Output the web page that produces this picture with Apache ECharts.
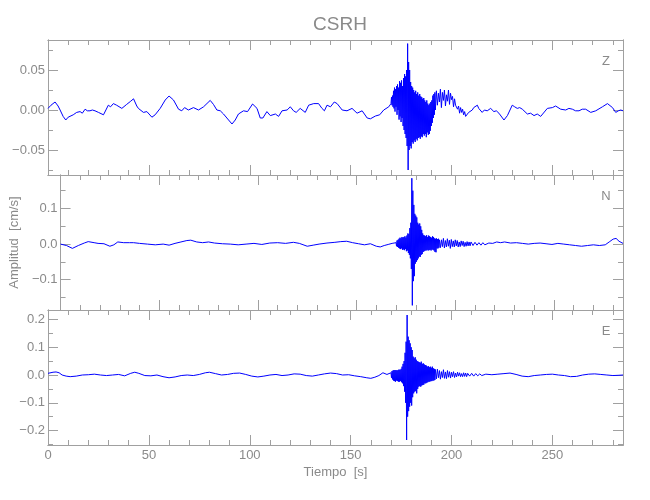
<!DOCTYPE html>
<html>
<head>
<meta charset="utf-8">
<script src="https://cdn.jsdelivr.net/npm/echarts@6/dist/echarts.min.js"></script>
<style>html,body{margin:0;padding:0;background:#fff}#c{width:650px;height:500px}</style>
</head>
<body>
<div id="c"></div>
<script>
// ---------- data ----------
const titleText = 'CSRH';
const componentNames = ['Z', 'N', 'E'];
const xRange = [0, 285];
const xMajor = [0, 50, 100, 150, 200, 250];
const xMinor = [10,20,30,40,60,70,80,90,110,120,130,140,160,170,180,190,210,220,230,240,260,270,280];

const zRange = [-0.08125, 0.0875];
const zMajor = [-0.05, 0, 0.05];
const zMinor = [-0.075, -0.025, 0.025, 0.075];
const nRange = [-0.185, 0.194];
const nMajor = [-0.1, 0, 0.1];
const nMinor = [-0.15, -0.05, 0.05, 0.15];
const eRange = [-0.252, 0.234];
const eMajor = [-0.2, -0.1, 0, 0.1, 0.2];
const eMinor = [-0.25, -0.15, -0.05, 0.05, 0.15];

// shared sample times of the strong-motion part (s)
const evT = [
 170,170.25,170.5,170.75, 171,171.25,171.5,171.75, 172,172.25,172.5,172.75,
 173,173.25,173.5,173.75, 174,174.25,174.5,174.75, 175,175.25,175.5,175.75,
 176,176.25,176.5,176.75, 177,177.25,177.5,177.75, 178,178.25,178.5,178.75,
 179,179.25,179.5,179.75, 180,180.25,180.5,180.75, 181,181.25,181.5,181.75,
 182,182.25,182.5,182.75, 183,183.25,183.5,183.75, 184,184.25,184.5,184.75,
 185,185.25,185.5,185.75, 186,186.25,186.5,186.75, 187,187.25,187.5,187.75,
 188,188.25,188.5,188.75, 189,189.25,189.5,189.75, 190,190.25,190.5,190.75,
 191,191.25,191.5,191.75, 192,
 192.5,193,193.5,194,194.5,195,195.5,196,196.5,197,197.5,198,198.5,199,199.5,200,
 200.5,201,201.5,202,202.5,203,203.5,204,204.5,205
];

// Z component
const zPre = [[0,0.002],[1.5,0.006],[3.5,0.010],[5,0.005],[6,0.000],[7.5,-0.008],[8.8,-0.0125],[10,-0.009],
 [10.9,-0.007],[12.5,-0.006],[14.2,-0.003],[15.9,-0.002],[17,-0.004],[18.4,0.001],[19.5,-0.001],[20.8,-0.001],
 [22,0.000],[23.3,-0.001],[25,-0.003],[25.8,-0.005],[27.5,-0.006],[29.9,0.006],[31,0.004],[32.4,0.008],
 [34,0.006],[34.9,0.005],[36.6,0.002],[39,0.007],[41,0.011],[42.4,0.014],[44,0.005],[44.8,0.002],
 [47.3,-0.003],[49,-0.002],[51.5,-0.009],[53.1,-0.006],[55.6,0.002],[58.1,0.0125],[60,0.0175],[62.2,0.0125],
 [64.7,0.001],[66.3,-0.001],[67.7,0.003],[69.6,0.000],[72.1,0.003],[74.6,0.000],[77.1,0.004],[80.4,0.012],
 [82,0.007],[83.7,0.000],[85.4,-0.001],[87,-0.005],[89.5,-0.0125],[91.2,-0.0175],[92.8,-0.0125],[94.4,-0.005],
 [96.9,-0.001],[98.9,-0.002],[101.4,0.0075],[103.6,0.002],[105.2,-0.010],[106.5,-0.010],[108.5,-0.002],[110.2,-0.007],
 [112.7,-0.005],[114.3,-0.008],[116,-0.001],[118.5,0.000],[120.1,0.004],[121.7,-0.001],[123,-0.003],[125,0.002],
 [127.5,-0.003],[129.2,0.006],[131.7,0.008],[134.1,0.008],[135.8,0.002],[137,-0.001],[138.3,0.006],[140,0.004],
 [141.9,0.010],[143.3,0.008],[145.8,0.000],[148.2,-0.001],[150.7,0.002],[153.2,-0.004],[155.7,-0.001],[158.2,-0.010],
 [159.8,-0.011],[162.3,-0.0075],[164.4,-0.006],[166.4,0.000],[168.9,0.004]];
const zEv = [
 0.008,0.016,0.006,0.018,  0.004,0.024,0.002,0.028,  -0.002,0.026,0.004,0.030,
 -0.006,0.032,0.000,0.028, -0.012,0.036,-0.008,0.034, -0.015,0.037,-0.010,0.030,
 -0.020,0.040,-0.025,0.045, -0.030,0.042,-0.035,0.050, -0.045,0.083,-0.075,0.060,
 -0.050,0.050,-0.045,0.035, -0.048,0.030,-0.040,0.028, -0.042,0.025,-0.038,0.022,
 -0.040,0.024,-0.036,0.020, -0.038,0.022,-0.035,0.018, -0.034,0.020,-0.036,0.017,
 -0.033,0.016,-0.034,0.014, -0.030,0.015,-0.032,0.012, -0.030,0.010,-0.034,0.012,
 -0.028,0.008,-0.031,0.006, -0.030,0.008,-0.026,0.010, -0.020,0.012,-0.016,0.018,
 -0.010,0.020,-0.006,0.022, 0.000,
 0.024,0.006,0.021,0.010,0.026,0.003,0.022,0.012,0.025,0.005,0.019,0.011,0.025,0.007,0.021,0.013,
 0.017,0.004,0.014,0.006,0.007,0.001,0.005,-0.004,0.003,-0.003
];
const zPost = [[205.5,0.001],[206,-0.006],[206.5,-0.002],[207,-0.008],[207.8,-0.007],[208.5,-0.003],[209.2,-0.005],
 [210.3,0.000],[211,0.003],[211.7,0.001],[212.8,0.006],[213.5,0.002],[215.2,-0.003],[216.3,0.000],[217.7,-0.001],
 [219.4,0.002],[221,-0.002],[222.2,-0.001],[223.5,-0.004],[226,-0.0125],[227.7,-0.007],[230.1,0.006],[231.3,0.004],
 [232.6,0.002],[233.8,0.003],[235.1,0.001],[237.6,-0.005],[239.2,-0.004],[240.9,-0.007],[242.5,-0.005],[244.2,-0.008],
 [247.5,0.002],[250,0.003],[251.6,0.005],[254.1,0.001],[256.6,0.000],[258.2,0.002],[259.9,0.001],[261.5,-0.001],
 [263.2,-0.001],[264.8,0.001],[266.5,0.001],[269,-0.003],[271.5,-0.001],[274.8,0.004],[277.3,0.008],[279.8,0.003],
 [281.4,-0.003],[282.7,-0.001],[283.9,0.000],[285,-0.001]];

// N component
const nPre = [[0,0.000],[3,-0.004],[6,-0.012],[9,-0.004],[12,0.003],[14,0.007],[17,0.004],[19,0.002],
 [22,0.001],[25,-0.006],[27,-0.002],[29,0.006],[32,0.004],[35,0.004],[37,0.004],[40,0.002],
 [44,0.000],[48,-0.002],[52,0.000],[55,-0.003],[58,0.002],[61,0.006],[64,0.010],[66,0.011],
 [69,0.006],[72,0.004],[75,0.006],[78,0.003],[82,0.001],[86,0.000],[90,-0.002],[94,0.000],
 [98,0.002],[102,-0.001],[106,0.003],[110,0.004],[114,0.002],[118,0.005],[121,0.002],[125,-0.006],
 [128,-0.003],[131,0.000],[135,0.003],[139,0.005],[142,0.007],[145,0.008],[148,0.004],[151,0.001],
 [154,-0.002],[157,0.001],[160,-0.006],[162,-0.008],[164,-0.004],[166,-0.001],[168,0.002]];
const nEv = [
 0.004,-0.006,0.010,-0.008, 0.012,-0.010,0.015,-0.012, 0.018,-0.014,0.016,-0.012,
 0.020,-0.016,0.018,-0.015, 0.020,-0.017,0.022,-0.014, 0.018,-0.020,0.024,-0.018,
 0.030,-0.025,0.028,-0.030, 0.045,-0.040,0.060,-0.070, 0.185,-0.172,0.150,-0.104,
 0.110,-0.090,0.085,-0.055, 0.080,-0.050,0.075,-0.045, 0.060,-0.040,0.055,-0.035,
 0.058,-0.036,0.050,-0.030, 0.040,-0.028,0.030,-0.022, 0.025,-0.020,0.024,-0.018,
 0.022,-0.018,0.025,-0.016, 0.020,-0.018,0.024,-0.017, 0.022,-0.016,0.020,-0.018,
 0.018,-0.015,0.022,-0.016, 0.020,-0.018,0.016,-0.022, 0.015,-0.023,0.016,-0.012,
 0.014,-0.012,0.015,-0.010, 0.012,
 -0.010,0.012,-0.007,0.016,-0.011,0.010,-0.008,0.015,-0.006,0.011,-0.012,0.013,-0.007,0.009,-0.008,0.012,
 -0.005,0.010,-0.008,0.006,-0.007,0.009,-0.004,0.008,-0.007,0.005
];
const nPost = [[205.5,-0.006],[206,0.007],[206.5,-0.005],[207,0.006],[207.5,-0.005],[208,0.006],[209,-0.004],
 [210,0.005],[211,-0.003],[212,0.004],[213,-0.003],[214,0.004],[215,-0.002],[217,0.003],[219,0.002],[221,0.006],
 [223,0.004],[225,0.006],[228,0.003],[231,0.004],[234,0.002],[237,0.000],[240,0.002],[243,0.003],
 [246,0.001],[249,-0.001],[252,0.002],[255,0.000],[258,-0.002],[261,-0.004],[264,-0.006],[267,-0.004],
 [270,-0.002],[273,-0.004],[276,-0.002],[278,0.006],[280,0.014],[281.5,0.016],[283,0.008],[285,0.002]];

// E component
const ePre = [[0,0.006],[2.5,0.010],[4,0.011],[5.5,0.008],[7,0.000],[9,-0.004],[11,-0.006],[14,-0.004],
 [17,0.000],[20,0.001],[23,0.003],[26,0.000],[29,-0.002],[32,0.000],[35,0.002],[38,-0.003],
 [41,0.006],[43,0.010],[45,0.006],[48,-0.002],[51,-0.003],[54,0.000],[57,-0.006],[60,-0.010],
 [63,-0.007],[66,-0.002],[69,0.000],[72,-0.002],[75,0.002],[78,0.008],[80,0.010],[83,0.005],
 [86,0.000],[89,0.002],[92,0.006],[95,0.007],[98,0.002],[101,-0.004],[104,-0.007],[107,-0.004],
 [110,0.000],[113,0.002],[116,-0.002],[119,0.000],[122,0.004],[125,0.003],[128,-0.002],[131,-0.004],
 [134,0.000],[137,0.004],[140,0.007],[143,0.005],[146,0.000],[149,0.001],[152,-0.003],[155,-0.006],
 [158,-0.010],[160,-0.012],[162,-0.008],[164,-0.002],[166,0.008],[168,0.002]];
const eEv = [
 0.008,-0.010,0.014,-0.016, 0.016,-0.020,0.018,-0.022, 0.017,-0.024,0.018,-0.020,
 0.016,-0.022,0.018,-0.024, 0.020,-0.024,0.018,-0.022, 0.022,-0.026,0.030,-0.030,
 0.040,-0.040,0.050,-0.060, 0.080,-0.100,0.120,-0.234, 0.216,-0.150,0.138,-0.130,
 0.125,-0.114,0.114,-0.100, 0.100,-0.110,0.090,-0.080, 0.066,-0.066,0.060,-0.060,
 0.064,-0.058,0.055,-0.066, 0.050,-0.050,0.048,-0.042, 0.046,-0.040,0.044,-0.042,
 0.048,-0.038,0.040,-0.036, 0.042,-0.035,0.038,-0.030, 0.036,-0.030,0.034,-0.028,
 0.030,-0.026,0.032,-0.024, 0.028,-0.024,0.030,-0.022, 0.026,-0.022,0.030,-0.020,
 0.024,-0.020,0.022,-0.018, 0.020,
 -0.014,0.021,-0.010,0.016,-0.015,0.012,-0.009,0.019,-0.012,0.011,-0.013,0.016,-0.008,0.012,-0.011,0.010,
 -0.006,0.012,-0.009,0.007,-0.007,0.010,-0.004,0.008,-0.006,0.005
];
const ePost = [[205.5,-0.006],[206,0.008],[206.5,-0.005],[207,0.007],[207.5,-0.006],[208,0.006],[209,-0.004],
 [210,0.006],[211,-0.004],[212,0.005],[213,-0.003],[214,0.004],[215,-0.002],[217,0.003],[220,0.001],[223,0.003],
 [226,0.005],[229,0.007],[232,0.002],[235,-0.004],[238,-0.006],[241,-0.002],[244,0.000],[247,0.002],
 [250,0.003],[253,0.000],[256,-0.002],[259,-0.006],[262,-0.005],[265,0.000],[268,0.003],[271,0.004],
 [274,0.002],[277,0.000],[280,-0.002],[283,-0.001],[285,0.000]];

// ---------- chart ----------
const FONT = '"Liberation Sans Narrow", "Liberation Sans", sans-serif';
const AX = '#a0a0a0';
const TXT = '#8a8a8a';
const LINE = '#0000ff';
const panelTops = [40, 175, 310];
const panelH = 135;
const left = 48, right = 27;

function build(pre, ev, post) {
  return pre.concat(evT.map((t, i) => [t, ev[i]]), post);
}
const traces = [build(zPre, zEv, zPost), build(nPre, nEv, nPost), build(ePre, eEv, ePost)];
const yRanges = [zRange, nRange, eRange];
const yMajors = [zMajor, nMajor, eMajor];
const yMinors = [zMinor, nMinor, eMinor];
const yDigits = [2, 1, 1];

function fmt(d) {
  return function (v) {
    const s = Math.abs(v).toFixed(d);
    return (v < -1e-9 ? '\u2212' : '') + s;
  };
}

const grids = [], xAxes = [], yAxes = [], series = [], graphics = [];
for (let g = 0; g < 3; g++) {
  grids.push({ left: left, right: right, top: panelTops[g], height: panelH });
  const lastPanel = g === 2;
  const xDefs = [['bottom', xMajor, 10, lastPanel], ['bottom', xMinor, 5, false], ['top', xMajor, 10, false], ['top', xMinor, 5, false]];
  xDefs.forEach(function (d, k) {
    const ax = {
      type: 'value', gridIndex: g, position: d[0], min: xRange[0], max: xRange[1],
      axisLine: { show: true, onZero: false, lineStyle: { color: AX, width: 1 } },
      axisTick: { show: true, inside: true, length: d[2], customValues: d[1], lineStyle: { color: AX, width: 1 } },
      axisLabel: { show: d[3], customValues: xMajor, color: TXT, fontFamily: FONT, fontSize: 13, margin: 4 },
      splitLine: { show: false }
    };
    if (lastPanel && k === 0) {
      ax.name = 'Tiempo  [s]'; ax.nameLocation = 'middle'; ax.nameGap = 21;
      ax.nameTextStyle = { color: TXT, fontFamily: FONT, fontSize: 13 };
    }
    xAxes.push(ax);
  });
  const yDefs = [['left', yMajors[g], 10, true], ['left', yMinors[g], 5, false], ['right', yMajors[g], 10, false], ['right', yMinors[g], 5, false]];
  yDefs.forEach(function (d, k) {
    const ax = {
      type: 'value', gridIndex: g, position: d[0], min: yRanges[g][0], max: yRanges[g][1],
      axisLine: { show: true, onZero: false, lineStyle: { color: AX, width: 1 } },
      axisTick: { show: true, inside: true, length: d[2], customValues: d[1], lineStyle: { color: AX, width: 1 } },
      axisLabel: { show: d[3], customValues: yMajors[g], formatter: fmt(yDigits[g]), color: TXT, fontFamily: FONT, fontSize: 13, margin: 3 },
      splitLine: { show: false }
    };
    if (g === 1 && k === 0) {
      ax.name = 'Amplitud  [cm/s]'; ax.nameLocation = 'middle'; ax.nameGap = 29; ax.nameRotate = 90;
      ax.nameTextStyle = { color: TXT, fontFamily: FONT, fontSize: 13 };
    }
    yAxes.push(ax);
  });
  series.push({
    type: 'line', xAxisIndex: g * 4, yAxisIndex: g * 4, data: traces[g],
    showSymbol: false, symbol: 'none', animation: false, clip: true,
    lineStyle: { color: LINE, width: 1 }
  });
  graphics.push({
    type: 'text', x: 606, y: panelTops[g] + 21,
    style: { text: componentNames[g], fill: TXT, font: '13px ' + FONT, textAlign: 'center', textVerticalAlign: 'middle' }
  });
}

const chart = echarts.init(document.getElementById('c'), null, { renderer: 'canvas' });
chart.setOption({
  backgroundColor: '#ffffff',
  animation: false,
  title: { text: titleText, left: 335, top: 10, textAlign: 'center',
    textStyle: { color: TXT, fontFamily: FONT, fontSize: 19, fontWeight: 'normal' } },
  grid: grids,
  xAxis: xAxes,
  yAxis: yAxes,
  series: series,
  graphic: graphics
});
</script>
</body>
</html>
